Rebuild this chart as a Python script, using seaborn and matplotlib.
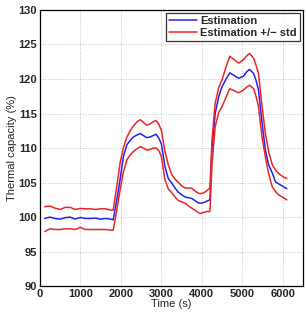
import numpy as np
import pandas as pd
import matplotlib
matplotlib.use("Agg")
import matplotlib.pyplot as plt
import seaborn as sns

# data
time_s = [120, 250, 370, 500, 620, 750, 870, 1000, 1120, 1250, 1370, 1500, 1620, 1750, 1810,
          1900, 1980, 2060, 2150, 2230, 2310, 2400, 2480, 2560, 2640, 2720, 2800, 2870, 2940, 3000,
          3090, 3170, 3260, 3340, 3420, 3510, 3590, 3670, 3750, 3830, 3900, 3960, 4050, 4120, 4200,
          4250, 4330, 4420, 4500, 4600, 4690, 4800, 4910, 5030, 5100, 5180, 5280, 5340, 5400, 5490,
          5570, 5650, 5740, 5820, 5900, 6020, 6100]

estimation = [99.8, 100.0, 99.8, 99.7, 99.9, 100.0, 99.7, 99.95, 99.8, 99.8, 99.85, 99.7, 99.8, 99.7, 99.6,
              102.5, 105.4, 108.7, 110.5, 111.1, 111.6, 111.9, 112.1, 111.8, 111.5, 111.6, 111.8, 112.0, 111.4, 110.6,
              107.3, 105.6, 104.9, 104.2, 103.6, 103.2, 102.9, 102.8, 102.7, 102.4, 102.1, 102.0, 102.1, 102.3, 102.5,
              109.7, 115.0, 117.5, 118.9, 120.0, 120.9, 120.5, 120.1, 120.4, 121.0, 121.4, 120.8, 119.8, 118.4, 113.6,
              109.7, 107.6, 106.4, 105.1, 104.8, 104.4, 104.1]

upper = [101.5, 101.6, 101.3, 101.1, 101.4, 101.4, 101.1, 101.25, 101.2, 101.2, 101.1, 101.2, 101.2, 101.0, 101.0,
         104.5, 107.8, 110.0, 111.6, 112.5, 113.2, 113.8, 114.1, 113.7, 113.3, 113.5, 113.8, 114.0, 113.4, 112.6,
         109.5, 107.6, 106.1, 105.5, 105.0, 104.5, 104.2, 104.2, 104.2, 103.8, 103.5, 103.4, 103.5, 103.8, 104.2,
         111.0, 116.5, 118.8, 119.9, 121.8, 123.3, 122.8, 122.3, 122.8, 123.3, 123.7, 123.0, 122.0, 120.8, 116.0,
         112.1, 109.5, 107.6, 106.8, 106.3, 105.8, 105.6]

lower = [97.9, 98.3, 98.2, 98.2, 98.3, 98.3, 98.2, 98.5, 98.2, 98.2, 98.2, 98.2, 98.2, 98.1, 98.1,
         101.0, 103.9, 106.5, 108.3, 109.0, 109.5, 109.9, 110.2, 110.0, 109.7, 109.8, 110.0, 110.0, 109.6, 108.8,
         105.4, 104.1, 103.5, 102.9, 102.4, 102.2, 102.0, 101.6, 101.3, 101.0, 100.7, 100.5, 100.7, 100.8, 100.8,
         107.5, 113.1, 115.2, 116.0, 117.4, 118.6, 118.3, 118.0, 118.4, 118.8, 119.1, 118.6, 117.5, 116.0, 111.5,
         108.7, 106.3, 104.4, 103.7, 103.2, 102.8, 102.5]

df = pd.DataFrame({"time": time_s, "est": estimation, "up": upper, "low": lower})

sns.set_style("white")
plt.rcParams["font.family"] = ["Liberation Sans", "DejaVu Sans"]

fig = plt.figure(figsize=(3.07, 3.12), dpi=100)
ax = fig.add_axes([0.130, 0.083, 0.857, 0.885])

blue = "#2222ee"
red = "#e8262a"
sns.lineplot(data=df, x="time", y="est", color=blue, lw=1.1, label="Estimation", ax=ax)
sns.lineplot(data=df, x="time", y="up", color=red, lw=1.1, label="Estimation +/\u2212 std", ax=ax)
sns.lineplot(data=df, x="time", y="low", color=red, lw=1.1, label="_nolegend_", ax=ax)

ax.set_xlim(0, 6500)
ax.set_ylim(90, 130)
ax.set_xticks(range(0, 7000, 1000))
ax.set_yticks(range(90, 131, 5))
ax.grid(True, color="#b0b0b0", ls=(0, (1, 2)), lw=0.6)
ax.tick_params(direction="in", length=3, width=0.6, labelsize=8, pad=2)
for lab in ax.get_xticklabels() + ax.get_yticklabels():
    lab.set_fontweight("bold")
for s in ax.spines.values():
    s.set_color("black")
    s.set_linewidth(0.9)

ax.set_xlabel("Time (s)", fontsize=8, labelpad=0)
ax.set_ylabel("Thermal capacity (%)", fontsize=8, labelpad=1)

leg = ax.legend(loc="upper right", fontsize=8, frameon=True, fancybox=False,
                borderpad=0.25, handlelength=2.5, handletextpad=0.3, labelspacing=0.15,
                borderaxespad=0.3)
leg.get_frame().set_edgecolor("black")
leg.get_frame().set_linewidth(0.9)
for t in leg.get_texts():
    t.set_fontweight("bold")

fig.savefig("out.png", dpi=100)
